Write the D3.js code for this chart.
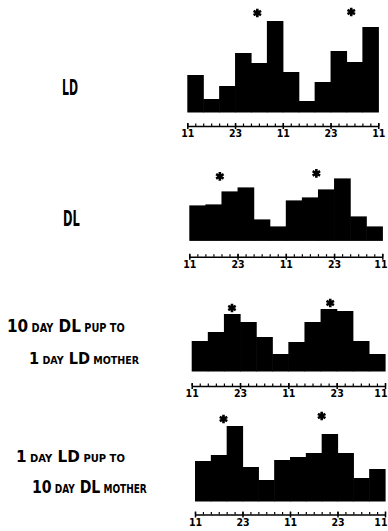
<!DOCTYPE html>
<html><head><meta charset="utf-8">
<script src="https://cdn.jsdelivr.net/npm/d3@7"></script>
<style>html,body{margin:0;padding:0;background:#fff;}svg{display:block;}</style>
</head><body>
<svg id="c" width="388" height="531"></svg>
<script>
// ---- data ----
const panelTitles = [["LD"], ["DL"], ["10 DAY DL PUP TO", "1 DAY LD MOTHER"], ["1 DAY LD PUP TO", "10 DAY DL MOTHER"]];
const ldValues    = [36, 12, 25, 58, 48, 90, 39, 10, 29, 60, 49, 84];
const dlValues    = [34, 35, 48, 52, 20, 13, 39, 42, 50, 61, 23, 13];
const dlPupValues = [29, 38, 56, 48, 33, 16, 28, 48, 61, 59, 29, 16];
const ldPupValues = [39, 45, 74, 33, 20, 40, 43, 47, 66, 47, 22, 31];
const starBars    = [[4.4, 10.3], [1.9, 7.9], [2.5, 8.6], [1.8, 8.0]];
const starLevels  = [[98, 99], [63, 66], [62, 67], [81, 84]];
const tickHours   = [0, 12, 24, 36, 48];
const tickLabels  = ["11", "23", "11", "23", "11"];
const bigWords    = ["10", "1", "DL", "LD"];

const series = [ldValues, dlValues, dlPupValues, ldPupValues];

// ---- layout ----
const layout = [
  {x0: 187.3, x1: 378.3, base: 111,   axis: 126},
  {x0: 189.3, x1: 382.3, base: 239.4, axis: 256.7},
  {x0: 191.7, x1: 385.0, base: 370,   axis: 386},
  {x0: 195.0, x1: 385.0, base: 500,   axis: 514.5}
];
const titleBoxes = [
  [{x0: 62, x1: 78, y: 95, big: 21}],
  [{x0: 63, x1: 80, y: 226, big: 22}],
  [{x0: 7, x1: 125, y: 332, big: 18, small: 11.5}, {x0: 29, x1: 140, y: 364, big: 16, small: 10.5}],
  [{x0: 16, x1: 125, y: 462, big: 16, small: 10.5}, {x0: 32, x1: 147, y: 493, big: 18, small: 11.5}]
];
const FONT = "'Liberation Sans Narrow','DejaVu Sans Condensed','Liberation Sans',sans-serif";
const W = 388;

const svg = d3.select("#c");
const yScale = d3.scaleLinear().domain([0, 100]).range([0, 100]);

series.forEach((vals, p) => {
  const L = layout[p];
  const g = svg.append("g");
  const xBar = d3.scaleLinear().domain([0, vals.length]).range([L.x0, L.x1]);
  const xHour = d3.scaleLinear().domain([0, 48]).range([L.x0, L.x1]);

  g.selectAll("rect").data(vals).join("rect")
    .attr("x", (d, i) => xBar(i))
    .attr("width", (d, i) => xBar(i + 1) - xBar(i) + 0.6)
    .attr("y", d => L.base - yScale(d))
    .attr("height", d => yScale(d) + 1.5)
    .attr("fill", "#000");

  // stars
  g.selectAll("path.star").data(starBars[p]).join("path")
    .attr("class", "star")
    .attr("d", d3.symbol(d3.symbolAsterisk, 52)())
    .attr("transform", (d, i) => `translate(${xBar(d)},${L.base - yScale(starLevels[p][i])})`)
    .attr("fill", "none").attr("stroke", "#000").attr("stroke-width", 2.6);

  // minor ticks
  const minor = d3.axisBottom(xHour).tickValues(d3.range(0, 49, 2)).tickFormat("")
    .tickSizeInner(-2.5).tickSizeOuter(0);
  g.append("g").attr("transform", `translate(0,${L.axis})`).call(minor)
    .call(s => s.select(".domain").attr("stroke-width", 1.6))
    .call(s => s.selectAll(".tick line").attr("stroke-width", 1.2));
  // major ticks + labels
  const major = d3.axisBottom(xHour).tickValues(tickHours).tickFormat((d, i) => tickLabels[i])
    .tickSizeInner(3).tickSizeOuter(0).tickPadding(1);
  g.append("g").attr("transform", `translate(0,${L.axis})`).call(major)
    .call(s => s.select(".domain").remove())
    .call(s => s.selectAll(".tick line").attr("stroke-width", 1.5).attr("y1", -3))
    .call(s => s.selectAll(".tick text").attr("font-family", FONT).attr("font-weight", "bold")
      .attr("font-size", 10.5).attr("fill", "#000"))
    .call(s => s.selectAll(".tick").each(function(d) {
      const txt = d3.select(this).select("text");
      const w = txt.node().getComputedTextLength();
      const right = xHour(d) + w / 2;
      if (right > W - 1) txt.attr("x", (W - 1) - right);
    }));

  // titles
  panelTitles[p].forEach((line, li) => {
    const B = titleBoxes[p][li];
    const t = svg.append("text").attr("font-family", FONT).attr("font-weight", "bold").attr("fill", "#000");
    const words = line.split(" ");
    words.forEach((w, wi) => {
      const isBig = bigWords.includes(w);
      t.append("tspan").attr("font-size", isBig ? B.big : B.small)
        .text((wi > 0 ? " " : "") + w);
    });
    const bb = t.node().getBBox();
    const s = (B.x1 - B.x0) / bb.width;
    t.attr("transform", `translate(${B.x0 - bb.x * s},${B.y}) scale(${s},1)`);
  });
});
</script>
</body></html>
